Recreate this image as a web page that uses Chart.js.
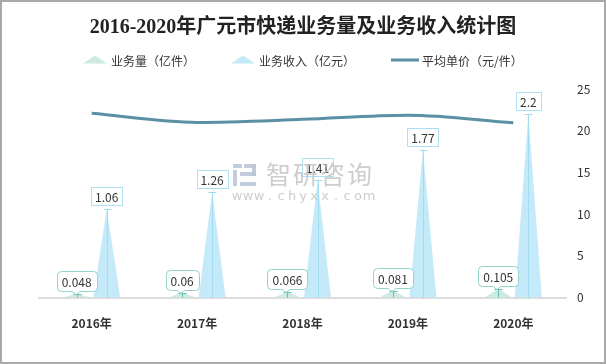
<!DOCTYPE html>
<html><head><meta charset="utf-8">
<script src="https://cdn.jsdelivr.net/npm/chart.js@4/dist/chart.umd.min.js"></script>
<style>html,body{margin:0;padding:0;background:#fff}</style>
</head><body>
<canvas id="c" width="606" height="364"></canvas>
<script>
// ---- data ----
const categories = ['2016年', '2017年', '2018年', '2019年', '2020年'];
const seriesNames = ['业务量（亿件）', '业务收入（亿元）', '平均单价（元/件）'];
const volume = [0.048, 0.06, 0.066, 0.081, 0.105];      // 亿件
const revenue = [1.06, 1.26, 1.41, 1.77, 2.2];          // 亿元
const unitPrice = [22.08, 21.0, 21.36, 21.85, 20.95];   // 元/件
const priceTicks = [0, 5, 10, 15, 20, 25];

// ---- styles ----
const C_VOL = '#cde9e3', C_VOL_LINE = '#62c1b1', C_VOL_BORDER = '#95d4ca';
const C_REV = '#c4eaf9', C_REV_LINE = '#a3dbf0', C_REV_BORDER = '#ade0f3';
const C_PRICE = '#5b8fa4';
const CJK = '"Noto Sans CJK SC", "Noto Sans", sans-serif';

const chartPlugin = {
  id: 'spikes',
  beforeDraw(chart) {
    const ctx = chart.ctx;
    ctx.save();
    ctx.fillStyle = '#fff'; ctx.fillRect(0, 0, chart.width, chart.height);
    // custom legend
    ctx.font = '12px ' + CJK;
    ctx.textBaseline = 'middle'; ctx.textAlign = 'left';
    const ly = 60;
    let x = 83;
    chart.data.datasets.forEach((ds, i) => {
      if (ds.type === 'bar') {
        ctx.fillStyle = ds.backgroundColor;
        ctx.beginPath(); ctx.moveTo(x, ly + 3.5); ctx.lineTo(x + 12, ly - 4.5); ctx.lineTo(x + 24, ly + 3.5); ctx.closePath(); ctx.fill();
        x += 24 + 4;
      } else {
        ctx.fillStyle = ds.borderColor;
        ctx.fillRect(x, ly - 1.5, 28, 3);
        x += 28 + 3;
      }
      ctx.fillStyle = '#333';
      ctx.fillText(ds.label, x, ly + 1);
      x += ctx.measureText(ds.label).width + 36;
    });
    ctx.restore();
  },
  beforeDatasetDraw(chart, args) {
    const ds = chart.data.datasets[args.index];
    if (ds.type !== 'bar') return;
    const ctx = chart.ctx;
    ctx.save();
    args.meta.data.forEach(el => {
      const p = el.getProps(['x', 'y', 'base', 'width'], true);
      ctx.fillStyle = ds.backgroundColor;
      ctx.beginPath();
      ctx.moveTo(p.x - p.width / 2, p.base);
      ctx.lineTo(p.x, p.y);
      ctx.lineTo(p.x + p.width / 2, p.base);
      ctx.closePath();
      ctx.fill();
      ctx.strokeStyle = ds.markColor; ctx.lineWidth = 1;
      const x = Math.round(p.x) + 0.5, yt = Math.round(p.y) + 0.5;
      ctx.beginPath();
      ctx.moveTo(x, p.base); ctx.lineTo(x, yt);
      ctx.moveTo(x - 4, yt); ctx.lineTo(x + 4, yt);
      ctx.stroke();
    });
    ctx.restore();
    return false;
  },
  afterDatasetsDraw(chart) {
    const ctx = chart.ctx;
    ctx.save();
    ctx.font = '12px ' + CJK;
    ctx.textAlign = 'center'; ctx.textBaseline = 'middle';
    chart.data.datasets.forEach((ds, di) => {
      if (ds.type !== 'bar') return;
      chart.getDatasetMeta(di).data.forEach((el, i) => {
        const txt = String(ds.data[i]);
        const tw = ctx.measureText(txt).width;
        const x = el.x, top = Math.round(el.y);
        if (ds.labelStyle === 'box') {
          const w = Math.round(tw + 8), h = 18;
          const bx = Math.round(x - w / 2) + 0.5, by = top - 4 - h + 0.5;
          ctx.fillStyle = '#fff'; ctx.fillRect(bx, by, w, h);
          ctx.strokeStyle = ds.labelBorder; ctx.lineWidth = 1; ctx.strokeRect(bx, by, w, h);
          ctx.fillStyle = '#333'; ctx.fillText(txt, x, by + h / 2 + 0.5);
        } else {
          const w = Math.round(tw + 10), h = 20, r = 4;
          const bx = Math.round(x - w / 2) + 0.5, bb = top - 3 + 0.5, by = bb - h;
          const tx = Math.round(x) - 1;
          ctx.beginPath();
          ctx.moveTo(bx + r, by);
          ctx.lineTo(bx + w - r, by); ctx.arcTo(bx + w, by, bx + w, by + r, r);
          ctx.lineTo(bx + w, bb - r); ctx.arcTo(bx + w, bb, bx + w - r, bb, r);
          ctx.lineTo(tx + 4, bb); ctx.lineTo(tx, bb + 3); ctx.lineTo(tx - 4, bb);
          ctx.lineTo(bx + r, bb); ctx.arcTo(bx, bb, bx, bb - r, r);
          ctx.lineTo(bx, by + r); ctx.arcTo(bx, by, bx + r, by, r);
          ctx.closePath();
          ctx.fillStyle = '#fff'; ctx.fill();
          ctx.strokeStyle = ds.labelBorder; ctx.lineWidth = 1; ctx.stroke();
          ctx.fillStyle = '#333'; ctx.fillText(txt, x, by + h / 2 + 0.5);
        }
      });
    });
    ctx.restore();
  },
  afterDraw(chart) {
    const ctx = chart.ctx;
    ctx.save();
    // watermark
    ctx.globalAlpha = 0.85;
    ctx.fillStyle = '#b9c3d6';
    ctx.fillRect(233, 164, 9, 4); ctx.fillRect(244, 164, 12, 4); ctx.fillRect(252, 164, 4, 12);
    ctx.fillRect(233, 170, 4, 16); ctx.fillRect(240, 172, 16, 4); ctx.fillRect(240, 182, 16, 4);
    ctx.fillStyle = '#c4c4c4';
    ctx.font = '25px ' + CJK;
    ctx.textAlign = 'left'; ctx.textBaseline = 'middle';
    const wm = '智研咨询';
    for (let i = 0; i < wm.length; i++) ctx.fillText(wm[i], 266 + i * 27, 174);
    ctx.font = '13px "DejaVu Sans", sans-serif';
    ctx.textAlign = 'center';
    const url = 'www.chyxx.com';
    for (let i = 0; i < url.length; i++) ctx.fillText(url[i], 237 + i * 11, 197);
    ctx.globalAlpha = 1;
    // outer frame
    ctx.strokeStyle = '#a9a9a9'; ctx.lineWidth = 2;
    ctx.strokeRect(1, 1, chart.width - 2, chart.height - 2);
    ctx.restore();
  }
};

new Chart(document.getElementById('c'), {
  data: {
    labels: categories,
    datasets: [
      { type: 'bar', label: seriesNames[0], data: volume, yAxisID: 'y',
        backgroundColor: C_VOL, markColor: C_VOL_LINE, labelBorder: C_VOL_BORDER, labelStyle: 'callout',
        categoryPercentage: 0.57, barPercentage: 0.9 },
      { type: 'bar', label: seriesNames[1], data: revenue, yAxisID: 'y',
        backgroundColor: C_REV, markColor: C_REV_LINE, labelBorder: C_REV_BORDER, labelStyle: 'box',
        categoryPercentage: 0.57, barPercentage: 0.9 },
      { type: 'line', label: seriesNames[2], data: unitPrice, yAxisID: 'y2',
        borderColor: C_PRICE, backgroundColor: C_PRICE, borderWidth: 3, pointRadius: 0,
        cubicInterpolationMode: 'monotone', fill: false }
    ]
  },
  options: {
    responsive: false,
    devicePixelRatio: 1,
    animation: false,
    layout: { padding: { left: 15, right: 15, top: 0, bottom: 14 } },
    plugins: {
      tooltip: { enabled: false },
      legend: { display: false },
      title: {
        display: true,
        text: '2016-2020年广元市快递业务量及业务收入统计图',
        color: '#222',
        font: { family: '"Liberation Serif", ' + CJK, size: 20, weight: 'bold', lineHeight: 1.2 },
        padding: { top: 16, bottom: 49 }
      }
    },
    scales: {
      x: {
        grid: { display: false, drawTicks: false },
        border: { display: true, color: '#dcdcdc', width: 2 },
        ticks: { color: '#333', font: { family: CJK, size: 12, weight: 'bold' }, padding: 19 }
      },
      y: {
        display: true, position: 'left', min: 0, max: 2.5,
        grid: { display: false, drawTicks: false },
        border: { display: false },
        ticks: { display: false },
        afterFit: (axis) => { axis.width = 24; }
      },
      y2: {
        position: 'right', min: 0, max: 25,
        afterBuildTicks: (axis) => { axis.ticks = priceTicks.map(v => ({ value: v })); },
        grid: { display: false, drawTicks: false },
        border: { display: false },
        ticks: { color: '#333', font: { family: CJK, size: 12 }, padding: 11 },
        afterFit: (axis) => { axis.width = 25; }
      }
    }
  },
  plugins: [chartPlugin]
});
</script>
</body></html>
